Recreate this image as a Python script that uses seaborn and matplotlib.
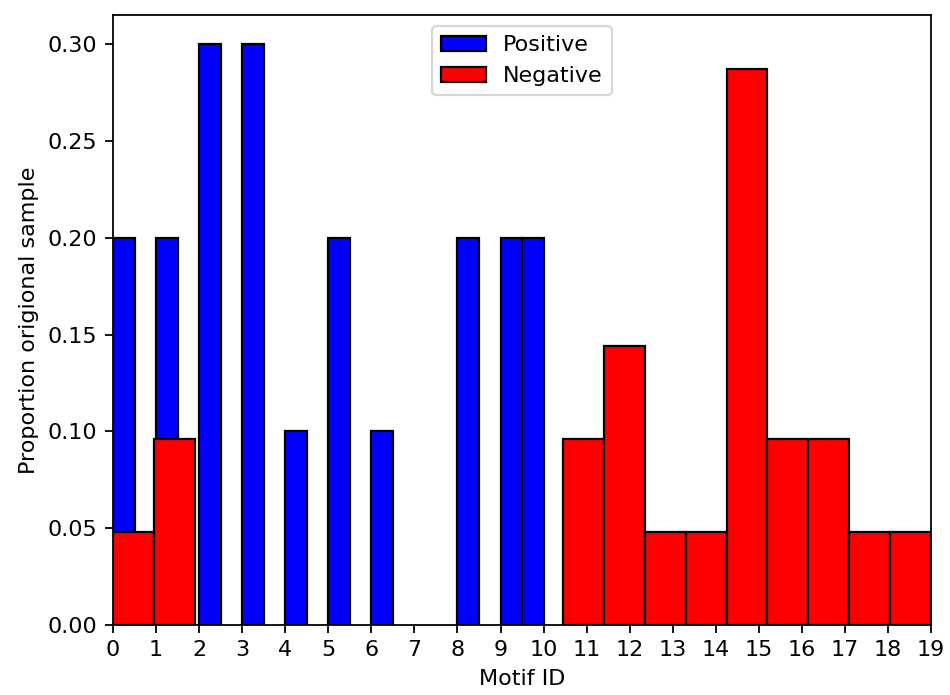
import numpy as np
import pandas as pd
import matplotlib.pyplot as plt
import seaborn as sns

# bin edges
pos_edges = [i * 0.5 for i in range(21)]     # width 0.5, 0..10
neg_edges = [i * 0.95 for i in range(21)]    # width 0.95, 0..19

# bar heights (proportion of original sample)
pos_heights = [0.20, 0.0, 0.20, 0.0, 0.30, 0.0, 0.30, 0.0, 0.10, 0.0,
               0.20, 0.0, 0.10, 0.0, 0.0, 0.0, 0.20, 0.0, 0.20, 0.20]
neg_heights = [0.048, 0.096, 0.0, 0.0, 0.0, 0.0, 0.0, 0.0, 0.0, 0.0,
               0.0, 0.096, 0.144, 0.048, 0.048, 0.287, 0.096, 0.096, 0.048, 0.048]

xticks = list(range(0, 20))

plt.rcParams['font.family'] = ['DejaVu Sans']

DPI = 160
fig, ax = plt.subplots(figsize=(950 / DPI, 695 / DPI), dpi=DPI)
fig.subplots_adjust(left=0.119, right=0.98, top=0.978, bottom=0.101)

pos_df = pd.DataFrame({
    "motif": [(a + b) / 2 for a, b in zip(pos_edges[:-1], pos_edges[1:])],
    "prop": pos_heights,
})
neg_df = pd.DataFrame({
    "motif": [(a + b) / 2 for a, b in zip(neg_edges[:-1], neg_edges[1:])],
    "prop": neg_heights,
})

sns.histplot(data=pos_df, x="motif", weights="prop", bins=pos_edges, ax=ax,
             color="blue", alpha=1, edgecolor="black", linewidth=1,
             label="Positive")
sns.histplot(data=neg_df, x="motif", weights="prop", bins=neg_edges, ax=ax,
             color="red", alpha=1, edgecolor="black", linewidth=1,
             label="Negative")

# hide the empty bins
for p in ax.patches:
    if p.get_height() == 0:
        p.set_visible(False)

ax.set_xlim(0, 19)
ax.set_ylim(0, 0.315)
ax.set_xticks(xticks)
ax.set_yticks(np.arange(0, 0.31, 0.05))
ax.set_xlabel("Motif ID")
ax.set_ylabel("Proportion origional sample")
ax.legend(loc="upper center")

plt.savefig("out.png", dpi=DPI)
